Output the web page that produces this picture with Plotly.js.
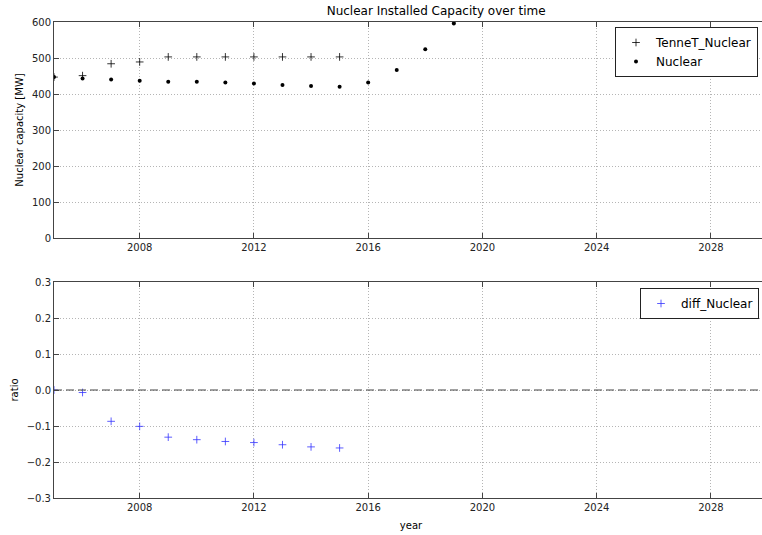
<!DOCTYPE html>
<html>
<head>
<meta charset="utf-8">
<script src="https://cdn.plot.ly/plotly-3.0.1.min.js"></script>
<style>
html,body{margin:0;padding:0;overflow:hidden;background:#fff;}
#chart{width:768px;height:535px;}
</style>
</head>
<body>
<div id="chart"></div>
<script>
// Data
const yearsTennet = [2005, 2006, 2007, 2008, 2009, 2010, 2011, 2012, 2013, 2014, 2015];
const tennetNuclear = [447, 451, 484, 489, 503, 503, 503, 503, 503, 503, 503];
const yearsNuclear = [2005, 2006, 2007, 2008, 2009, 2010, 2011, 2012, 2013, 2014, 2015, 2016, 2017, 2018, 2019];
const nuclear = [447, 443, 440, 437, 434, 434, 432, 429, 425, 422, 420, 432, 467, 524, 596];
const yearsDiff = [2005, 2006, 2007, 2008, 2009, 2010, 2011, 2012, 2013, 2014, 2015];
const diffNuclear = [0.0, -0.007, -0.087, -0.101, -0.131, -0.138, -0.143, -0.146, -0.152, -0.158, -0.161];
const xRange = [2005, 2030];
const refLine = 0;

const W = 768, H = 535;
const font = "DejaVu Sans, sans-serif";

const traces = [
  {x: yearsTennet, y: tennetNuclear, name: 'TenneT_Nuclear', type: 'scatter', mode: 'markers',
   xaxis: 'x', yaxis: 'y', legend: 'legend',
   marker: {symbol: 'cross-thin', size: 5.5, color: '#000', line: {color: '#000', width: 0.8}}},
  {x: yearsNuclear, y: nuclear, name: 'Nuclear', type: 'scatter', mode: 'markers',
   xaxis: 'x', yaxis: 'y', legend: 'legend',
   marker: {symbol: 'circle', size: 4, color: '#000'}},
  {x: yearsDiff, y: diffNuclear, name: 'diff_Nuclear', type: 'scatter', mode: 'markers',
   xaxis: 'x2', yaxis: 'y2', legend: 'legend2',
   marker: {symbol: 'cross-thin', size: 5.5, color: '#3333ff', line: {color: '#3333ff', width: 0.8}}}
];

const axBase = {
  showline: true, linecolor: '#444', linewidth: 1, mirror: 'ticks',
  ticks: 'inside', ticklen: 5, tickcolor: '#444',
  showgrid: true, gridcolor: '#b5b5b5', gridwidth: 1, griddash: '1px,2px',
  zeroline: false, tickfont: {family: font, size: 10, color: '#222'},
  automargin: false
};

const layout = {
  width: W, height: H,
  margin: {l: 54, r: 0, t: 0, b: 0},
  paper_bgcolor: '#fff', plot_bgcolor: '#fff',
  showlegend: true,
  title: {text: 'Nuclear Installed Capacity over time', font: {family: font, size: 12, color: '#000'},
          x: 411 / W, xref: 'paper', xanchor: 'center', y: 1 - 11 / H, yanchor: 'middle'},
  xaxis: Object.assign({}, axBase, {domain: [0, 1], anchor: 'y', range: xRange, tick0: 2008, dtick: 4}),
  yaxis: Object.assign({}, axBase, {domain: [1 - 238 / H, 1 - 22 / H], anchor: 'x', range: [0, 600], dtick: 100,
    title: {text: 'Nuclear capacity [MW]', font: {family: font, size: 10, color: '#000'}, standoff: 6}}),
  xaxis2: Object.assign({}, axBase, {domain: [0, 1], anchor: 'y2', range: xRange, tick0: 2008, dtick: 4,
    title: {text: 'year', font: {family: font, size: 10, color: '#000'}, standoff: 9}}),
  yaxis2: Object.assign({}, axBase, {domain: [1 - 498 / H, 1 - 282 / H], anchor: 'x2', range: [-0.3, 0.3], dtick: 0.1,
    tickformat: '.1f',
    title: {text: 'ratio', font: {family: font, size: 10, color: '#000'}, standoff: 6}}),
  legend: {x: (615 - 54) / (W - 54), xanchor: 'left', y: 1 - 27 / H, yanchor: 'top',
    bgcolor: '#fff', bordercolor: '#222', borderwidth: 1,
    font: {family: font, size: 12, color: '#000'}, itemwidth: 30, tracegroupgap: 0},
  legend2: {x: (640 - 54) / (W - 54), xanchor: 'left', y: 1 - 288 / H, yanchor: 'top',
    bgcolor: '#fff', bordercolor: '#222', borderwidth: 1,
    font: {family: font, size: 12, color: '#000'}, itemwidth: 30},
  shapes: [
    {type: 'line', xref: 'x2 domain', yref: 'y2', x0: 0, x1: 1, y0: refLine, y1: refLine,
     line: {color: '#444', width: 1.2, dash: '8px,4px'}}
  ]
};

Plotly.newPlot('chart', traces, layout, {staticPlot: true, displayModeBar: false});
</script>
</body>
</html>
